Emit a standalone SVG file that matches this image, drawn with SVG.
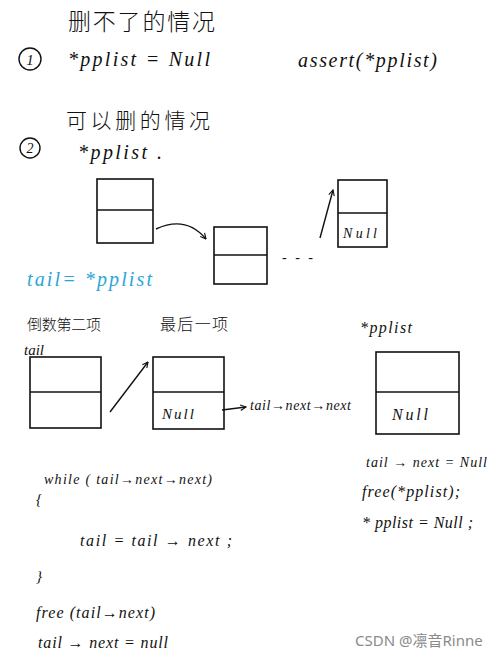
<svg xmlns="http://www.w3.org/2000/svg" width="498" height="658" viewBox="0 0 498 658">
<defs>
<marker id="ah" viewBox="0 0 10 10" refX="9" refY="5" markerWidth="7" markerHeight="7" orient="auto" markerUnits="userSpaceOnUse">
<path d="M1,1 L9,5 L1,9" fill="none" stroke="#111" stroke-width="1.6"/>
</marker>
</defs>
<style>
.hw{font-family:"Liberation Serif","DejaVu Serif",serif;font-style:italic;fill:#111}
.cn{font-family:"Noto Sans CJK SC","Noto Sans",sans-serif;fill:#111;font-weight:300}
.box{fill:none;stroke:#111;stroke-width:1.6}
.ln{fill:none;stroke:#111;stroke-width:1.4}
.blue{fill:#2aa6d6}
.wm{font-family:"Noto Sans","Noto Sans CJK SC",sans-serif;fill:#8a8a8a}
</style>
<rect width="498" height="658" fill="#fff"/>

<g id="titles">
<text class="cn" x="68" y="30" font-size="23" textLength="147">删不了的情况</text>
<circle cx="30" cy="59" r="11" class="ln"/>
<text class="hw" x="30" y="65" font-size="15" text-anchor="middle">1</text>
<text class="hw" x="68" y="66" font-size="20" textLength="142">*pplist = Null</text>
<text class="hw" x="298" y="67" font-size="20" textLength="139">assert(*pplist)</text>
<text class="cn" x="66" y="128" font-size="21" textLength="144">可以删的情况</text>
<circle cx="30" cy="148" r="10" class="ln"/>
<text class="hw" x="30" y="153" font-size="14" text-anchor="middle">2</text>
<text class="hw" x="78" y="159" font-size="20" textLength="84">*pplist .</text>
</g>

<g id="node1"><rect class="box" x="97" y="179" width="56" height="64"/><line class="box" x1="97" y1="210" x2="153" y2="210"/></g>
<g id="node2"><rect class="box" x="214" y="227" width="53" height="57"/><line class="box" x1="214" y1="255" x2="267" y2="255"/></g>
<g id="node3"><rect class="box" x="338" y="180" width="49" height="67"/><line class="box" x1="338" y1="213" x2="387" y2="213"/><text class="hw" x="343" y="238" font-size="14" textLength="34">Null</text></g>

<text class="hw" x="282" y="262" font-size="14" textLength="31">- - -</text>
<text class="hw blue" x="27" y="286" font-size="20" textLength="125">tail= *pplist</text>

<g id="labels2">
<text class="cn" x="27" y="330" font-size="15" textLength="74">倒数第二项</text>
<text class="cn" x="160" y="330" font-size="16" textLength="68">最后一项</text>
<text class="hw" x="360" y="333" font-size="16" textLength="52">*pplist</text>
<text class="hw" x="24" y="355" font-size="15">tail</text>
</g>

<g id="nodeA"><rect class="box" x="30" y="357" width="71" height="71"/><line class="box" x1="30" y1="392" x2="101" y2="392"/></g>
<g id="nodeB"><rect class="box" x="153" y="357" width="71" height="72"/><line class="box" x1="153" y1="392" x2="224" y2="392"/><text class="hw" x="162" y="419" font-size="15" textLength="32">Null</text></g>
<g id="nodeC"><rect class="box" x="376" y="352" width="83" height="82"/><line class="box" x1="376" y1="392" x2="459" y2="392"/><text class="hw" x="392" y="420" font-size="16" textLength="36">Null</text></g>
<text class="hw" x="250" y="410" font-size="14" textLength="101">tail→next→next</text>

<g id="connectors">
<path class="ln" d="M156,229 Q186,215 206,239" marker-end="url(#ah)"/>
<line class="ln" x1="320" y1="238" x2="333" y2="190" marker-end="url(#ah)"/>
<line class="ln" x1="110" y1="412" x2="148" y2="362" marker-end="url(#ah)"/>
<line class="ln" x1="222" y1="410" x2="246" y2="407" marker-end="url(#ah)"/>
</g>

<g id="code">
<text class="hw" x="44" y="484" font-size="14" textLength="168">while ( tail→next→next)</text>
<text class="hw" x="36" y="504" font-size="15">{</text>
<text class="hw" x="80" y="546" font-size="16" textLength="152">tail = tail → next ;</text>
<text class="hw" x="36" y="581" font-size="15">}</text>
<text class="hw" x="36" y="618" font-size="16" textLength="119">free (tail→next)</text>
<text class="hw" x="38" y="648" font-size="16" textLength="130">tail → next = null</text>
<text class="hw" x="366" y="467" font-size="14" textLength="121">tail → next = Null</text>
<text class="hw" x="362" y="497" font-size="16" textLength="98">free(*pplist);</text>
<text class="hw" x="362" y="528" font-size="16" textLength="111">* pplist = Null ;</text>
</g>

<text class="wm" x="355" y="646" font-size="15">CSDN @凛音Rinne</text>
</svg>
